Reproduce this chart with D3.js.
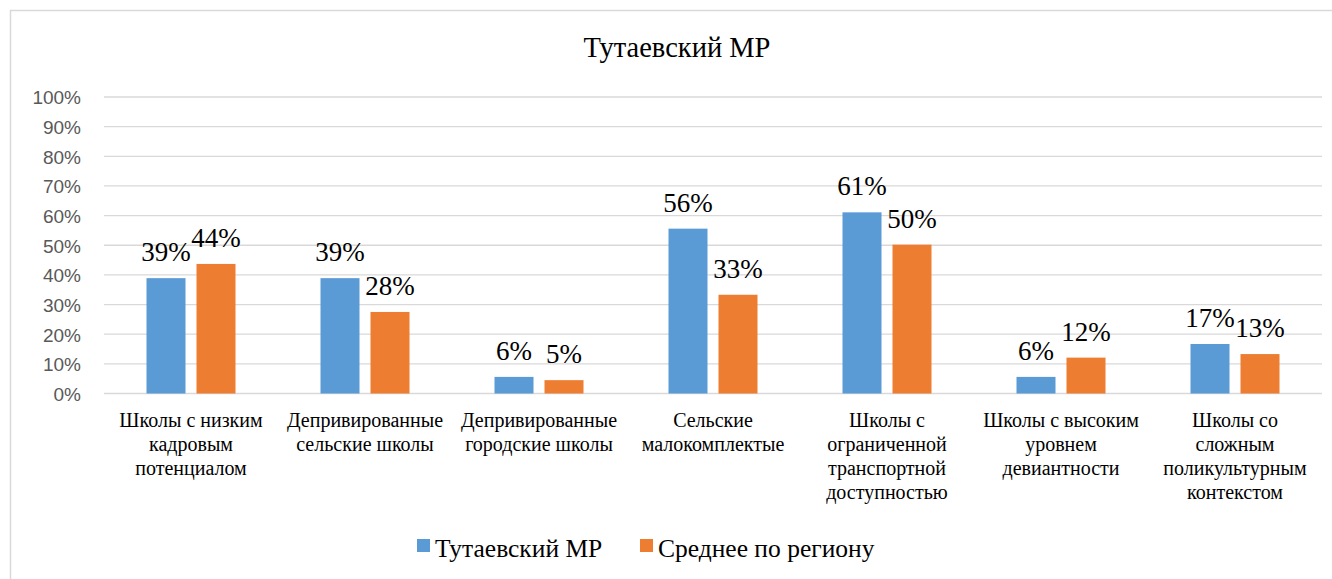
<!DOCTYPE html>
<html>
<head>
<meta charset="utf-8">
<script src="https://cdn.jsdelivr.net/npm/d3@7"></script>
<style>
  html, body { margin: 0; padding: 0; background: #fff; }
  svg { display: block; }
</style>
</head>
<body>
<svg id="chart" width="1332" height="579"></svg>
<script>
// ---- data ----
const title = "Тутаевский МР";
const categories = [
  "Школы с низким\nкадровым\nпотенциалом",
  "Депривированные\nсельские школы",
  "Депривированные\nгородские школы",
  "Сельские\nмалокомплектые",
  "Школы с\nограниченной\nтранспортной\nдоступностью",
  "Школы с высоким\nуровнем\nдевиантности",
  "Школы со\nсложным\nполикультурным\nконтекстом"
];
const seriesNames = ["Тутаевский МР", "Среднее по региону"];
const districtValues = [0.389, 0.389, 0.056, 0.556, 0.611, 0.056, 0.167];
const regionValues = [0.437, 0.275, 0.045, 0.333, 0.502, 0.121, 0.133];
const yTicks = [0, 0.1, 0.2, 0.3, 0.4, 0.5, 0.6, 0.7, 0.8, 0.9, 1.0];
const colors = ["#5b9bd5", "#ed7d31"];

const SERIF = '"Liberation Serif"';
const SANS = '"Liberation Sans"';

const seriesValues = [districtValues, regionValues];
const rows = categories.map((c, i) => ({
  cat: c,
  vals: seriesNames.map((s, j) => ({ series: s, idx: j, value: seriesValues[j][i] }))
}));

// ---- layout ----
const svg = d3.select("#chart");
const plot = { left: 104, right: 1322, top: 97, bottom: 393.5 };

svg.append("rect")
  .attr("x", 10.5).attr("y", 10.5)
  .attr("width", 1400).attr("height", 700)
  .attr("fill", "#fff").attr("stroke", "#d9d9d9").attr("stroke-width", 1.5);

const x0 = d3.scaleBand().domain(categories).range([plot.left, plot.right]).paddingInner(0).paddingOuter(0);
const groupW = 89;
const x1 = d3.scaleBand().domain(seriesNames)
  .range([(x0.bandwidth() - groupW) / 2, (x0.bandwidth() + groupW) / 2])
  .paddingInner(0.22).paddingOuter(0);
const y = d3.scaleLinear().domain([0, 1]).range([plot.bottom, plot.top]);

// gridlines
svg.append("g").selectAll("line").data(yTicks).join("line")
  .attr("x1", plot.left).attr("x2", plot.right)
  .attr("y1", d => y(d)).attr("y2", d => y(d))
  .attr("stroke", "#d9d9d9").attr("stroke-width", 1.3);

// y axis labels
const yAxis = d3.axisLeft(y).tickValues(yTicks).tickFormat(d3.format(".0%")).tickSize(0).tickPadding(0);
const gy = svg.append("g").attr("transform", `translate(81,0)`).call(yAxis);
gy.select(".domain").remove();
gy.selectAll("text")
  .attr("fill", "#595959")
  .style("font-family", SANS)
  .style("font-size", "19px")
  .attr("dy", "0.36em");

// bars
const groups = svg.append("g").selectAll("g").data(rows).join("g")
  .attr("transform", d => `translate(${x0(d.cat)},0)`);

groups.selectAll("rect").data(d => d.vals).join("rect")
  .attr("x", d => x1(d.series))
  .attr("width", x1.bandwidth())
  .attr("y", d => y(d.value))
  .attr("height", d => y(0) - y(d.value))
  .attr("fill", d => colors[d.idx]);

// data labels
groups.selectAll("text").data(d => d.vals).join("text")
  .attr("x", d => x1(d.series) + x1.bandwidth() / 2)
  .attr("y", d => y(d.value) - 17)
  .attr("text-anchor", "middle")
  .style("font-family", SERIF)
  .style("font-size", "27px")
  .attr("fill", "#000")
  .text(d => d3.format(".0%")(d.value));

// category labels
const catG = svg.append("g");
categories.forEach(c => {
  const cx = x0(c) + x0.bandwidth() / 2;
  const t = catG.append("text")
    .attr("x", cx)
    .attr("y", 427)
    .attr("text-anchor", "middle")
    .style("font-family", SERIF)
    .style("font-size", "20px")
    .attr("fill", "#000");
  c.split("\n").forEach((line, i) => {
    t.append("tspan").attr("x", cx).attr("dy", i === 0 ? 0 : 24).text(line);
  });
});

// title
svg.append("text")
  .attr("x", 677).attr("y", 57)
  .attr("text-anchor", "middle")
  .style("font-family", SERIF)
  .style("font-size", "28.5px")
  .attr("fill", "#000")
  .text(title);

// legend
const legendItems = [
  { name: seriesNames[0], color: colors[0], x: 417 },
  { name: seriesNames[1], color: colors[1], x: 640 }
];
const lg = svg.append("g").selectAll("g").data(legendItems).join("g")
  .attr("transform", d => `translate(${d.x},0)`);
lg.append("rect").attr("x", 0).attr("y", 539).attr("width", 13).attr("height", 13).attr("fill", d => d.color);
lg.append("text")
  .attr("x", 18).attr("y", 557)
  .style("font-family", SERIF)
  .style("font-size", "25.5px")
  .attr("fill", "#000")
  .text(d => d.name);
</script>
</body>
</html>
